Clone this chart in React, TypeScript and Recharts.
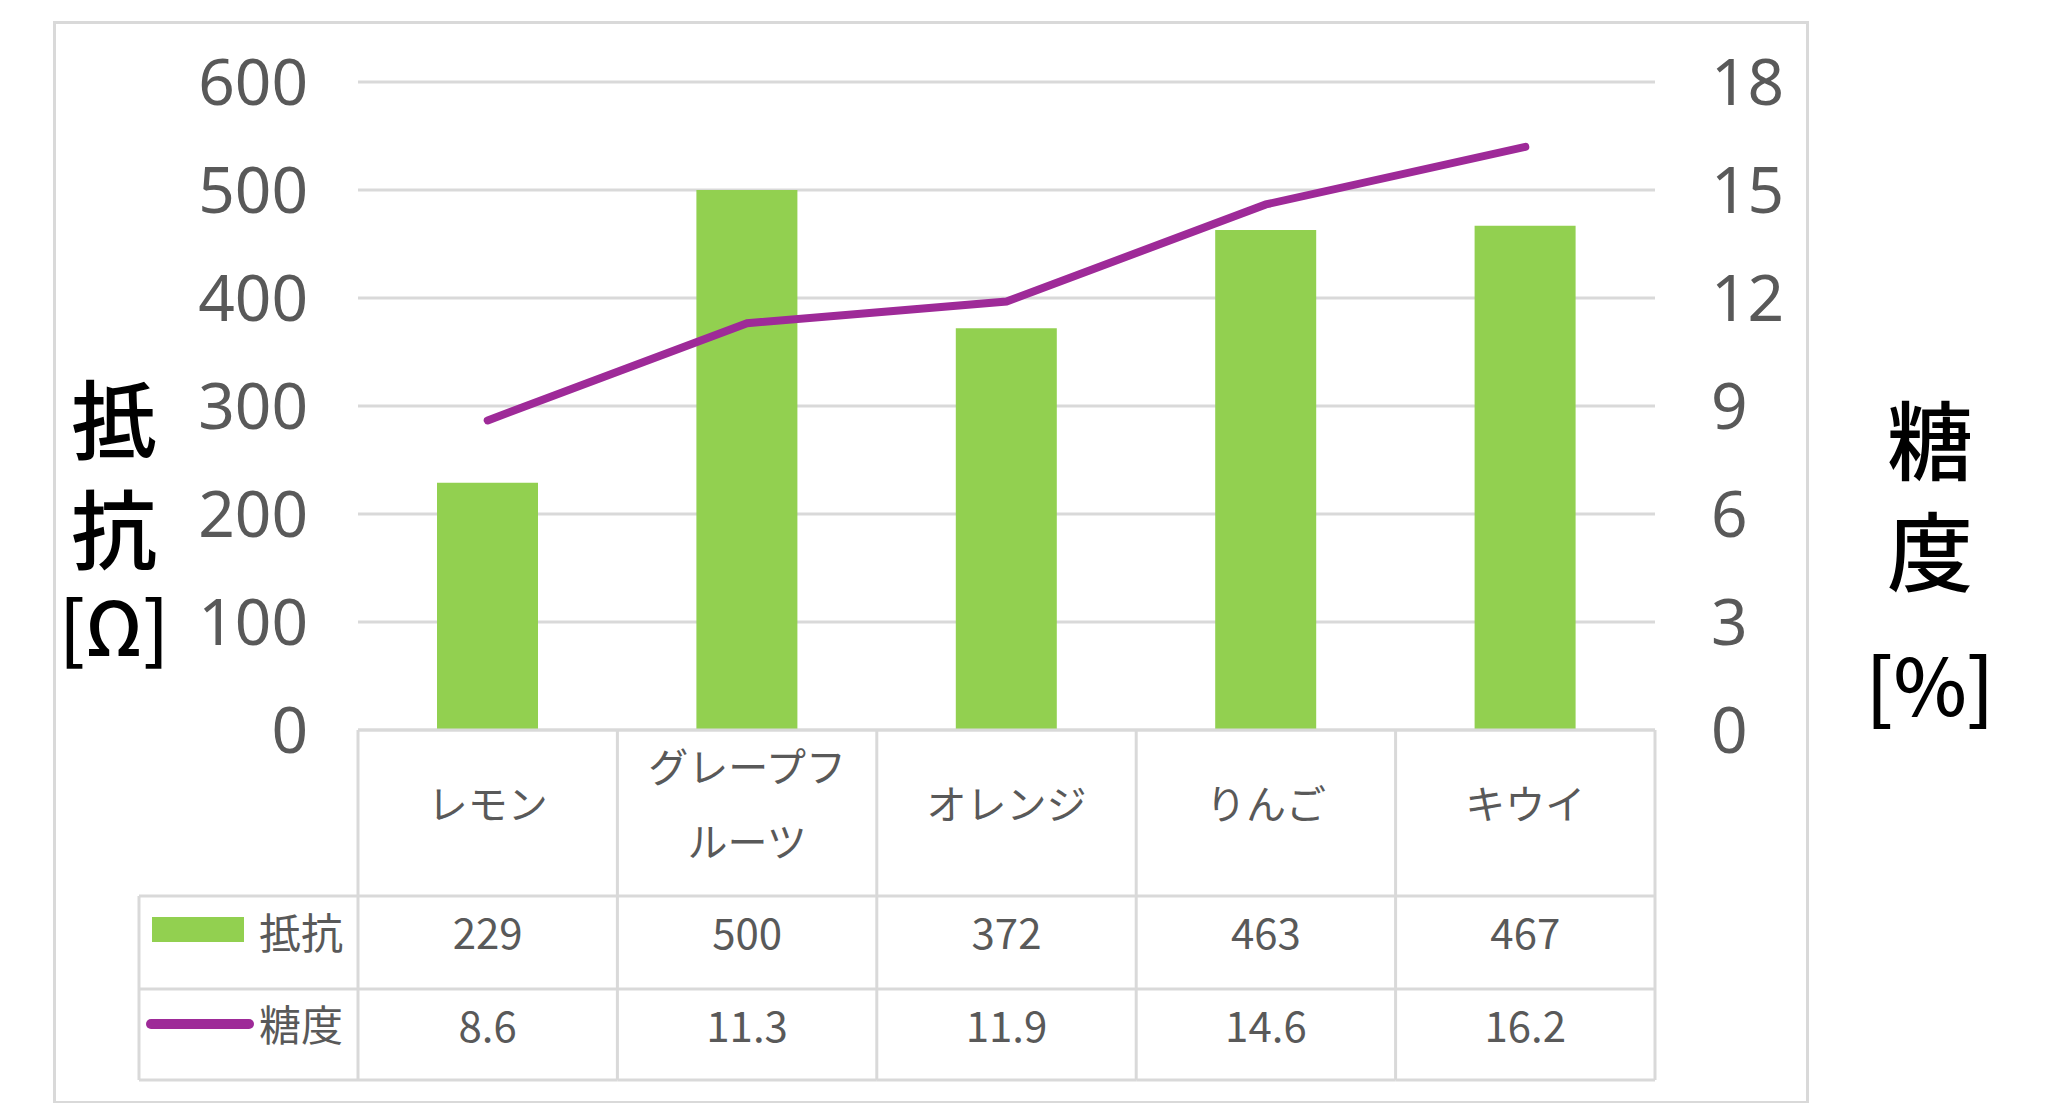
import React from 'react';
import { ComposedChart, Bar, Line, XAxis, YAxis, CartesianGrid } from 'recharts';

const fruits = ['レモン', 'グレープフルーツ', 'オレンジ', 'りんご', 'キウイ'];
const resistance = [229, 500, 372, 463, 467];
const sugar = [8.6, 11.3, 11.9, 14.6, 16.2];
const resistanceTicks = [0, 100, 200, 300, 400, 500, 600];
const sugarTicks = [0, 3, 6, 9, 12, 15, 18];
const seriesNames = ['抵抗', '糖度'];

const data = fruits.map((name, i) => ({ name, resistance: resistance[i], sugar: sugar[i] }));

const GREEN = '#92D050';
const PURPLE = '#9E2A98';
const GRID = '#D9D9D9';
const TEXT = '#595959';
const JP = '"Noto Sans CJK JP", "Noto Sans", sans-serif';

const W = 2047;
const H = 1095;
const PLOT_W = 1297;
const BAND = PLOT_W / fruits.length;
// table rows below the axis: category / resistance / sugar
const ROW1 = 166;
const ROW2 = 259;
const ROW3 = 350;
const LEGEND_W = 219;

// wrap long category names the way Excel does in the data table
const splitLabel = (s: string) => {
  const out: string[] = [];
  for (let i = 0; i < s.length; i += 5) out.push(s.slice(i, i + 5));
  return out;
};

const TableColumn = (props: any) => {
  const { x, y, payload } = props;
  const i = payload.index;
  const left = x - BAND / 2;
  const right = x + BAND / 2;
  const lines = splitLabel(payload.value);
  const line = { stroke: GRID, strokeWidth: 3 };
  const cell = { fill: TEXT, fontSize: 42, fontFamily: JP, textAnchor: 'middle' as const, dominantBaseline: 'central' as const };
  const legendX = left - LEGEND_W;
  return (
    <g>
      {i === 0 && (
        <g>
          <line x1={left} y1={y} x2={left} y2={y + ROW3} {...line} />
          <line x1={legendX} y1={y + ROW1} x2={left} y2={y + ROW1} {...line} />
          <line x1={legendX} y1={y + ROW2} x2={left} y2={y + ROW2} {...line} />
          <line x1={legendX} y1={y + ROW3} x2={left} y2={y + ROW3} {...line} />
          <line x1={legendX} y1={y + ROW1} x2={legendX} y2={y + ROW3} {...line} />
          <rect x={left - 206} y={y + 187} width={92} height={25} fill={GREEN} />
          <line x1={left - 207} y1={y + 294} x2={left - 109} y2={y + 294} stroke={PURPLE} strokeWidth={10} strokeLinecap="round" />
          <text x={left - 15} y={y + 200} {...cell} textAnchor="end">{seriesNames[0]}</text>
          <text x={left - 15} y={y + 292} {...cell} textAnchor="end">{seriesNames[1]}</text>
        </g>
      )}
      <line x1={right} y1={y} x2={right} y2={y + ROW3} {...line} />
      <line x1={left} y1={y + ROW1} x2={right} y2={y + ROW1} {...line} />
      <line x1={left} y1={y + ROW2} x2={right} y2={y + ROW2} {...line} />
      <line x1={left} y1={y + ROW3} x2={right} y2={y + ROW3} {...line} />
      {lines.length === 1 ? (
        <text x={x} y={y + 72} {...cell} fontSize={40}>{lines[0]}</text>
      ) : (
        lines.map((t, k) => (
          <text key={k} x={x} y={y + 35 + k * 75} {...cell} fontSize={40}>{t}</text>
        ))
      )}
      <text x={x} y={y + 200} {...cell}>{resistance[i]}</text>
      <text x={x} y={y + 293} {...cell}>{sugar[i]}</text>
    </g>
  );
};

// vertical stacked axis title, one <text> with a tspan per row
const AxisTitle = ({ cx, top, rows }: { cx: number; top: number; rows: { t: string; dy: number; size: number }[] }) => (
  <text x={cx} y={top} textAnchor="middle" dominantBaseline="central" fontFamily={JP} fontWeight={500} fill="#000">
    {rows.map((r, k) => (
      <tspan key={k} x={cx} dy={r.dy} fontSize={r.size}>{r.t}</tspan>
    ))}
  </text>
);

const App = () => {
  return (
    <div style={{ position: 'relative', width: W, height: H }}>
      <div style={{ position: 'absolute', left: 45, top: 13, width: 1750, height: 1077, border: `3px solid ${GRID}` }} />
      <ComposedChart width={W} height={H} data={data} margin={{ top: 74, right: 200, bottom: 23, left: 150 }}>
        <CartesianGrid yAxisId="left" vertical={false} stroke={GRID} strokeWidth={3} />
        <XAxis
          dataKey="name"
          height={ROW3}
          interval={0}
          tickSize={0}
          tickMargin={0}
          axisLine={{ stroke: GRID, strokeWidth: 3 }}
          tickLine={false}
          tick={(p: any) => <TableColumn {...p} />}
        />
        <YAxis
          yAxisId="left"
          width={200}
          domain={[0, 600]}
          ticks={resistanceTicks}
          axisLine={false}
          tickLine={false}
          tickSize={0}
          tickMargin={50}
          tick={{ fill: TEXT, fontSize: 64, fontFamily: '"Noto Sans", sans-serif' }}
          label={
            <AxisTitle cx={106} top={0} rows={[
              { t: '抵', dy: 407, size: 86 },
              { t: '抗', dy: 110, size: 86 },
              { t: '[Ω]', dy: 98, size: 74 },
            ]} />
          }
        />
        <YAxis
          yAxisId="right"
          orientation="right"
          width={200}
          domain={[0, 18]}
          ticks={sugarTicks}
          axisLine={false}
          tickLine={false}
          tickSize={0}
          tickMargin={56}
          tick={{ fill: TEXT, fontSize: 64, fontFamily: '"Noto Sans", sans-serif', textAnchor: 'start' }}
          label={
            <AxisTitle cx={1922} top={0} rows={[
              { t: '糖', dy: 428, size: 86 },
              { t: '度', dy: 111, size: 86 },
              { t: '[%]', dy: 135, size: 78 },
            ]} />
          }
        />
        <Bar yAxisId="left" dataKey="resistance" fill={GREEN} barSize={101} isAnimationActive={false} />
        <Line
          yAxisId="right"
          type="linear"
          dataKey="sugar"
          stroke={PURPLE}
          strokeWidth={8}
          strokeLinecap="round"
          dot={false}
          activeDot={false}
          isAnimationActive={false}
        />
      </ComposedChart>
    </div>
  );
};

export default App;
